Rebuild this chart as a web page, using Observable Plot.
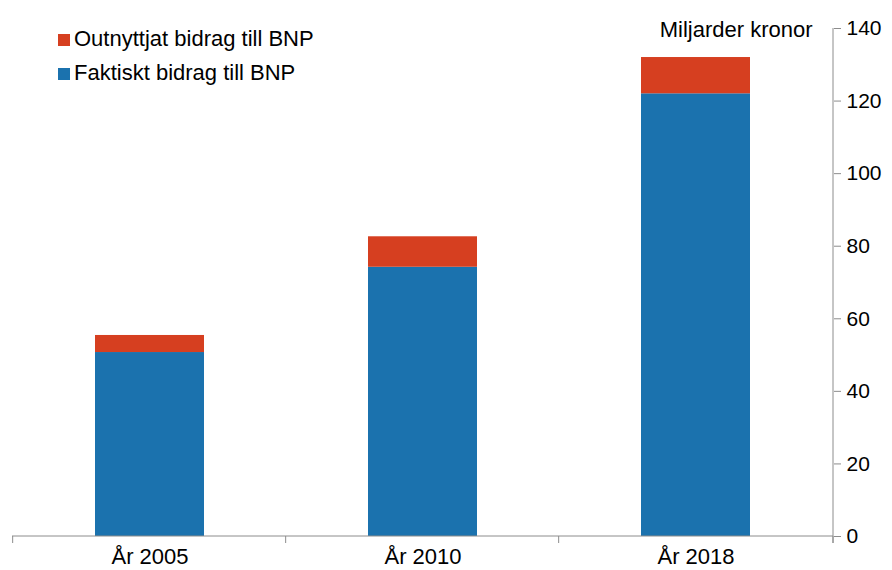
<!DOCTYPE html>
<html><head><meta charset="utf-8">
<script src="https://cdn.jsdelivr.net/npm/d3@7"></script>
<script src="https://cdn.jsdelivr.net/npm/@observablehq/plot@0.6"></script>
<style>
body{margin:0;background:#fff;font-family:"Liberation Sans",Arial,sans-serif;}
#wrap{position:relative;width:892px;height:570px;}
#legend{position:absolute;left:58px;top:22px;font-size:22px;color:#000;line-height:34px;}
#legend .sw{display:inline-block;width:12px;height:12px;margin-right:4px;vertical-align:0px;}
</style></head>
<body><div id="wrap"><div id="legend"></div></div>
<script>
const categories = ["År 2005", "År 2010", "År 2018"];
const actual = [50.7, 74.2, 122.0];
const unused = [4.7, 8.4, 10.0];
const seriesNames = ["Outnyttjat bidrag till BNP", "Faktiskt bidrag till BNP"];
const colors = ["#d63f20", "#1b72ae"];
const yTicks = [0, 20, 40, 60, 80, 100, 120, 140];
const yTitle = "Miljarder kronor";

const rows = [];
categories.forEach((c, i) => {
  rows.push({cat: c, series: seriesNames[1], value: actual[i]});
  rows.push({cat: c, series: seriesNames[0], value: unused[i]});
});

const gray = "#8c8c8c";
const PI = 0.6;

function axisLines(index, scales, values, dims) {
  const g = d3.create("svg:g").attr("stroke", gray).attr("fill", "none");
  const x0 = dims.marginLeft, x1 = dims.width - dims.marginRight;
  const y0 = dims.height - dims.marginBottom, yT = dims.marginTop;
  g.append("line").attr("x1", x0).attr("x2", x1).attr("y1", y0).attr("y2", y0);
  g.append("line").attr("x1", x1).attr("x2", x1).attr("y1", yT).attr("y2", y0 + 7);
  const bw = scales.x.bandwidth();
  const st = (x1 - x0) / categories.length;
  const bounds = categories.map(c => scales.x(c) - (st - bw) / 2);
  bounds.push(x1);
  for (const b of bounds) g.append("line").attr("x1", b).attr("x2", b).attr("y1", y0).attr("y2", y0 + 7);
  return g.node();
}

const plot = Plot.plot({
  width: 892, height: 570,
  marginLeft: 12, marginRight: 59, marginTop: 28, marginBottom: 34,
  style: {fontFamily: "Liberation Sans, Arial, sans-serif", fontSize: "21px", color: "#000", background: "#fff"},
  x: {domain: categories, paddingInner: PI, paddingOuter: PI / 2, label: null},
  y: {domain: [0, 140], label: null},
  color: {domain: seriesNames, range: colors},
  marks: [
    Plot.barY(rows, Plot.stackY({x: "cat", y: "value", fill: "series", order: seriesNames.slice().reverse()})),
    axisLines,
    Plot.axisX({tickSize: 0, tickPadding: 12, fontSize: 22}),
    Plot.axisY({anchor: "right", ticks: yTicks, tickSize: 7, tickPadding: 6, stroke: gray, fontSize: 21, label: null}),
    Plot.text([yTitle], {frameAnchor: "top-right", dx: -21, dy: -7, textAnchor: "end", fontSize: 22, fill: "#000"})
  ]
});
document.getElementById("wrap").prepend(plot);

const leg = document.getElementById("legend");
seriesNames.forEach((s, i) => {
  const d = document.createElement("div");
  d.innerHTML = `<span class="sw" style="background:${colors[i]}"></span>${s}`;
  leg.appendChild(d);
});
</script></body></html>
